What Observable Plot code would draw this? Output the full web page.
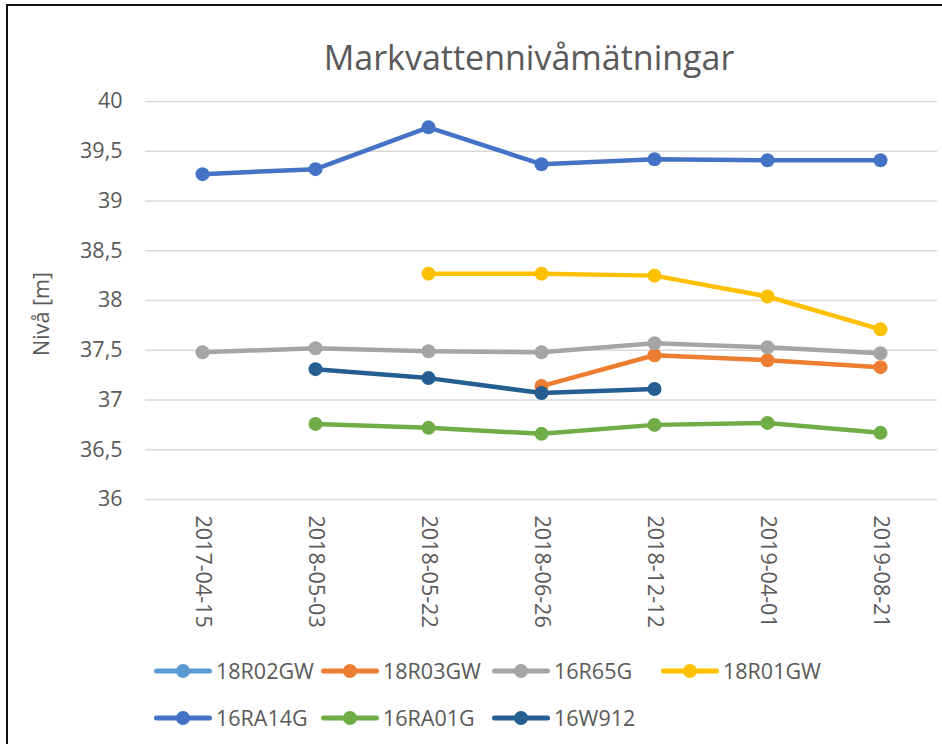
<!DOCTYPE html>
<html>
<head>
<meta charset="utf-8">
<script src="https://cdn.jsdelivr.net/npm/d3@7"></script>
<script src="https://cdn.jsdelivr.net/npm/@observablehq/plot@0.6"></script>
<style>
  html, body { margin: 0; padding: 0; background: #fff; overflow: hidden; }
  #wrap { position: relative; width: 942px; height: 744px; overflow: hidden; font-family: "Open Sans", sans-serif; color: #595959; }
  #frame { position: absolute; left: 6px; top: 4px; width: 2000px; height: 2000px; border: 2px solid #111; box-sizing: border-box; }
  #title { position: absolute; left: 529px; top: 40px; transform: translateX(-50%); font-size: 34px; line-height: 34px; white-space: nowrap; }
  #ylabel { position: absolute; left: 41px; top: 314px; width: 200px; text-align: center; font-size: 21.5px; line-height: 26px; transform: translate(-50%, -50%) rotate(-90deg); white-space: nowrap; }
  #chart { position: absolute; left: 0; top: 0; }
  .leg { position: absolute; height: 30px; line-height: 30px; font-size: 21.5px; white-space: nowrap; display: flex; align-items: center; }
  .leg svg { margin-right: 4px; }
</style>
</head>
<body>
<div id="wrap">
  <div id="frame"></div>
  <div id="chart"></div>
  <div id="title">Markvattennivåmätningar</div>
  <div id="ylabel">Nivå [m]</div>
  <div id="legend"></div>
</div>
<script>
const dates = ["2017-04-15","2018-05-03","2018-05-22","2018-06-26","2018-12-12","2019-04-01","2019-08-21"];
const seriesNames = ["18R02GW","18R03GW","16R65G","18R01GW","16RA14G","16RA01G","16W912"];
const seriesColors = ["#5B9BD5","#ED7D31","#A5A5A5","#FFC000","#4472C4","#70AD47","#255E91"];
const s18R02GW = [null, null, null, null, null, null, null];
const s18R03GW = [null, null, null, 37.14, 37.45, 37.40, 37.33];
const s16R65G  = [37.48, 37.52, 37.49, 37.48, 37.57, 37.53, 37.47];
const s18R01GW = [null, null, 38.27, 38.27, 38.25, 38.04, 37.71];
const s16RA14G = [39.27, 39.32, 39.74, 39.37, 39.42, 39.41, 39.41];
const s16RA01G = [null, 36.76, 36.72, 36.66, 36.75, 36.77, 36.67];
const s16W912  = [null, 37.31, 37.22, 37.07, 37.11, null, null];
const yTicks = [36, 36.5, 37, 37.5, 38, 38.5, 39, 39.5, 40];

const seriesValues = [s18R02GW, s18R03GW, s16R65G, s18R01GW, s16RA14G, s16RA01G, s16W912];

const marks = [Plot.ruleY(yTicks, {stroke: "#D9D9D9", strokeWidth: 1.5})];
seriesNames.forEach((name, i) => {
  const rows = [];
  seriesValues[i].forEach((v, j) => { if (v != null) rows.push({date: dates[j], value: v, series: name}); });
  if (rows.length) {
    marks.push(Plot.line(rows, {x: "date", y: "value", stroke: seriesColors[i], strokeWidth: 4.5, strokeLinejoin: "round", strokeLinecap: "round"}));
    marks.push(Plot.dot(rows, {x: "date", y: "value", r: 7, fill: seriesColors[i], stroke: "none"}));
  }
});

const chart = Plot.plot({
  width: 942,
  height: 640,
  marginTop: 101,
  marginBottom: 141,
  marginLeft: 145,
  marginRight: 5,
  style: {fontSize: "21.5px", fontFamily: "Open Sans, sans-serif", color: "#595959", background: "transparent"},
  x: {type: "point", domain: dates, label: null, tickRotate: 90, tickSize: 0, tickPadding: 16},
  y: {domain: [36, 40], ticks: yTicks, tickFormat: d => String(d).replace(".", ","), label: null, tickSize: 0, tickPadding: 23},
  marks
});
document.getElementById("chart").appendChild(chart);

// Legend
const legendPos = [[154, 671], [321, 671], [492, 671], [661, 671], [154, 718], [321, 718], [492, 718]];
const legend = document.getElementById("legend");
seriesNames.forEach((name, i) => {
  const [lx, ly] = legendPos[i];
  const item = document.createElement("div");
  item.className = "leg";
  item.style.left = lx + "px";
  item.style.top = (ly - 15) + "px";
  item.innerHTML = `<svg width="58" height="16"><line x1="2.5" y1="8" x2="55.5" y2="8" stroke="${seriesColors[i]}" stroke-width="5" stroke-linecap="round"/><circle cx="29" cy="8" r="7" fill="${seriesColors[i]}"/></svg><span>${name}</span>`;
  legend.appendChild(item);
});
</script>
</body>
</html>
